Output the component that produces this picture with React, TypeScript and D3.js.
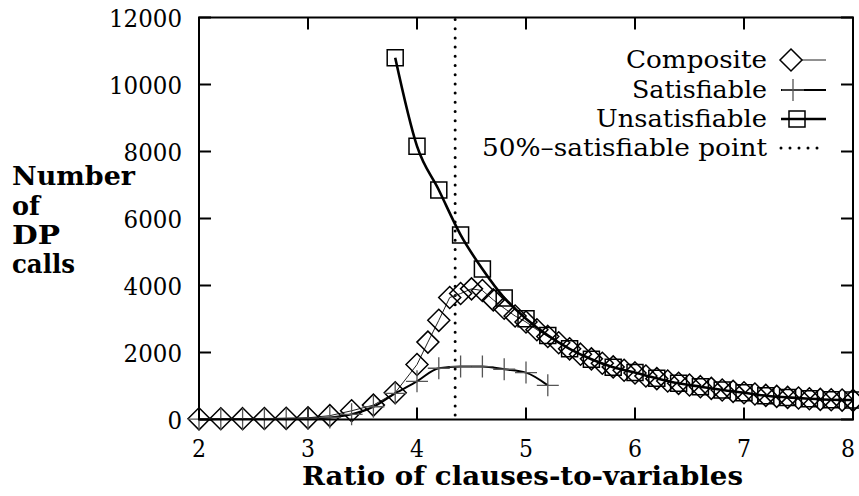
import React from "react";
import * as d3 from "d3";

const compX = [2.0, 2.2, 2.4, 2.6, 2.8, 3.0, 3.2, 3.4, 3.6, 3.8,
  4.0, 4.1, 4.2, 4.3, 4.4, 4.5, 4.6, 4.7, 4.8, 4.9, 5.0, 5.1, 5.2, 5.3, 5.4, 5.5, 5.6, 5.7, 5.8, 5.9,
  6.0, 6.1, 6.2, 6.3, 6.4, 6.5, 6.6, 6.7, 6.8, 6.9, 7.0, 7.1, 7.2, 7.3, 7.4, 7.5, 7.6, 7.7, 7.8, 7.9, 8.0];
const compY = [20, 22, 25, 30, 35, 50, 115, 260, 430, 800,
  1640, 2310, 2960, 3640, 3760, 3900, 3850, 3570, 3320, 3090, 2910, 2680, 2480, 2290, 2110, 1950, 1810, 1680, 1570, 1470,
  1390, 1300, 1220, 1150, 1080, 1030, 980, 930, 880, 840, 800, 760, 720, 690, 660, 640, 620, 600, 590, 580, 570];

const satX = [2.0, 2.2, 2.4, 2.6, 2.8, 3.0, 3.2, 3.4, 3.6, 3.8, 4.0, 4.2, 4.4, 4.6, 4.8, 5.0, 5.2];
const satY = [10, 12, 14, 16, 20, 30, 60, 155, 380, 780, 1140, 1530, 1580, 1580, 1500, 1400, 1020];

const unsatX = [3.8, 4.0, 4.2, 4.4, 4.6, 4.8, 5.0, 5.2, 5.4, 5.6, 5.8, 6.0, 6.2, 6.4, 6.6, 6.8, 7.0, 7.2, 7.4, 7.6, 7.8, 8.0];
const unsatY = [10800, 8160, 6850, 5510, 4490, 3630, 3010, 2510, 2110, 1800, 1560, 1400, 1230, 1080, 980, 880, 800, 710, 660, 620, 590, 580];

const xTicks = [2, 3, 4, 5, 6, 7, 8];
const yTicks = [0, 2000, 4000, 6000, 8000, 10000, 12000];
const halfPoint = 4.35;

const legendLabels = ["Composite", "Satisfiable", "Unsatisfiable", "50%\u2013satisfiable point"];
const yTitle = ["Number", "of", "DP", "calls"];
const xTitle = "Ratio of clauses-to-variables";

export default function App() {
  const x = d3.scaleLinear().domain([2, 8]).range([199, 853]);
  const y = d3.scaleLinear().domain([0, 12000]).range([419.5, 17.5]);
  const [x0, x1] = x.range();
  const [yb, yt] = y.range();

  const comp = compX.map((v, i) => [v, compY[i]] as [number, number]);
  const sat = satX.map((v, i) => [v, satY[i]] as [number, number]);
  const unsat = unsatX.map((v, i) => [v, unsatY[i]] as [number, number]);

  const linLine = d3.line<[number, number]>().x(d => x(d[0])).y(d => y(d[1]));
  const smoothLine = d3.line<[number, number]>().x(d => x(d[0])).y(d => y(d[1])).curve(d3.curveMonotoneX);

  const diamond = (cx: number, cy: number, r = 11) =>
    `M${cx},${cy - r}L${cx + r},${cy}L${cx},${cy + r}L${cx - r},${cy}Z`;
  const square = (cx: number, cy: number, h = 8) =>
    `M${cx - h},${cy - h}h${2 * h}v${2 * h}h${-2 * h}Z`;
  const plus = (cx: number, cy: number, h = 11) =>
    `M${cx - h},${cy}h${2 * h}M${cx},${cy - h}v${2 * h}`;

  const legBase = [68, 98, 127, 156];
  const legWidths = [141, 135, 171, 285];
  const legRight = 767;
  const sx0 = 781, sx1 = 826, sm = 793;
  const titleBase = [185, 215, 244, 273];
  const titleWidths = [123, 28, 48, 63];
  const ts = { fontFamily: "DejaVu Serif" };

  return (
    <svg width={859} height={496} style={{ position: "absolute", left: 0, top: 0 }}>
      <rect x={0} y={0} width={859} height={496} fill="#fff" />
      {xTicks.map(t => (
        <g key={"xt" + t}>
          <line x1={x(t)} x2={x(t)} y1={yb} y2={yb - 12} stroke="#000" strokeWidth={2} />
          <line x1={x(t)} x2={x(t)} y1={yt} y2={yt + 12} stroke="#000" strokeWidth={2} />
          <text x={Math.min(x(t), 848)} y={457} textAnchor="middle" fontSize={25} style={ts}
            textLength={14} lengthAdjust="spacingAndGlyphs">{t}</text>
        </g>
      ))}
      {yTicks.map(t => (
        <g key={"yt" + t}>
          <line x1={x0} x2={x0 + 12} y1={y(t)} y2={y(t)} stroke="#000" strokeWidth={2} />
          <line x1={x1} x2={x1 - 12} y1={y(t)} y2={y(t)} stroke="#000" strokeWidth={2} />
          <text x={182} y={y(t) + 9.5} textAnchor="end" fontSize={25} style={ts}
            textLength={String(t).length * 14.6} lengthAdjust="spacingAndGlyphs">{t}</text>
        </g>
      ))}
      <line x1={x(halfPoint)} x2={x(halfPoint)} y1={yt + 2} y2={yb} stroke="#000" strokeWidth={3}
        strokeDasharray="0 9.2" strokeLinecap="round" />
      <path d={linLine(comp) || ""} fill="none" stroke="#222" strokeWidth={1} />
      {comp.map((d, i) => (
        <path key={"c" + i} d={diamond(x(d[0]), y(d[1]))} fill="none" stroke="#000" strokeWidth={1.5} />
      ))}
      <path d={smoothLine(sat) || ""} fill="none" stroke="#000" strokeWidth={2} />
      {sat.map((d, i) => (
        <path key={"s" + i} d={plus(x(d[0]), y(d[1]))} fill="none" stroke="#555" strokeWidth={1.3} />
      ))}
      <path d={smoothLine(unsat) || ""} fill="none" stroke="#000" strokeWidth={2.6} />
      {unsat.map((d, i) => (
        <path key={"u" + i} d={square(x(d[0]), y(d[1]))} fill="none" stroke="#000" strokeWidth={1.5} />
      ))}
      <rect x={x0} y={yt} width={x1 - x0} height={yb - yt} fill="none" stroke="#000" strokeWidth={2} />
      {legendLabels.map((l, i) => (
        <text key={"l" + i} x={legRight} y={legBase[i]} textAnchor="end" fontSize={25} style={ts}
          textLength={legWidths[i]} lengthAdjust="spacingAndGlyphs">{l}</text>
      ))}
      <line x1={sx0 + 12} x2={sx1} y1={legBase[0] - 8} y2={legBase[0] - 8} stroke="#222" strokeWidth={1} />
      <path d={diamond(sm - 2, legBase[0] - 8)} fill="#fff" stroke="#000" strokeWidth={1.5} />
      <line x1={sx0} x2={sx1} y1={legBase[1] - 8} y2={legBase[1] - 8} stroke="#000" strokeWidth={2} />
      <path d={plus(sm, legBase[1] - 8)} fill="none" stroke="#555" strokeWidth={1.3} />
      <line x1={sx0} x2={sx1} y1={legBase[2] - 8} y2={legBase[2] - 8} stroke="#000" strokeWidth={2.6} />
      <path d={square(sm + 4, legBase[2] - 8)} fill="none" stroke="#000" strokeWidth={1.5} />
      <line x1={sx0} x2={sx1} y1={legBase[3] - 8} y2={legBase[3] - 8} stroke="#000" strokeWidth={3}
        strokeDasharray="0 9" strokeLinecap="round" />
      {yTitle.map((t, i) => (
        <text key={"ytl" + i} x={12} y={titleBase[i]} fontSize={26} fontWeight="bold" style={ts}
          textLength={titleWidths[i]} lengthAdjust="spacingAndGlyphs">{t}</text>
      ))}
      <text x={302} y={485} fontSize={26} fontWeight="bold" style={ts} textLength={441}
        lengthAdjust="spacingAndGlyphs">{xTitle}</text>
    </svg>
  );
}
